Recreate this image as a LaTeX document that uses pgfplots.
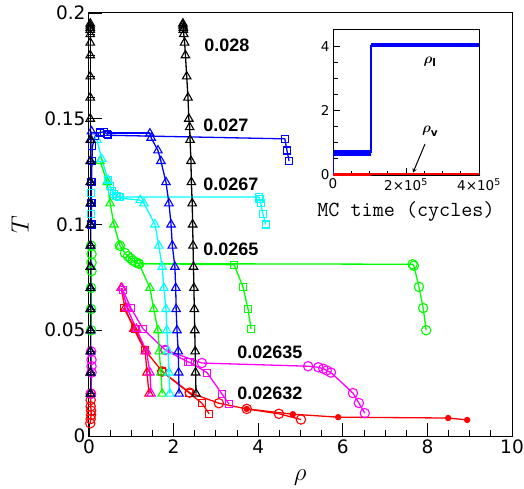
\documentclass[border=0pt]{standalone}
\usepackage{amsmath}
\usepackage{pgfplots}
\pgfplotsset{compat=1.18}
\usepackage{fontspec}
\setmainfont{DejaVu Sans}
\newfontfamily\labfont{Liberation Sans}
\definecolor{cRed}{RGB}{255,0,0}
\definecolor{cMag}{RGB}{255,0,255}
\definecolor{cGreen}{RGB}{0,255,0}
\definecolor{cCyan}{RGB}{0,255,255}
\definecolor{cBlue}{RGB}{0,0,255}
\pgfplotsset{
  tri/.style={mark=triangle, mark size=4.9pt, mark options={solid, line width=1.1pt, fill=none}},
  sq/.style={mark=square, mark size=3.5pt, mark options={solid, line width=1.1pt, fill=none}},
  circ/.style={mark=o, mark size=4.7pt, mark options={solid, line width=1.1pt, fill=none}},
  dot/.style={mark=*, mark size=2.5pt, mark options={solid}},
  ln/.style={line width=1.3pt},
}
\begin{document}
\begin{tikzpicture}
\path[use as bounding box] (0,0) rectangle (524pt,488pt);
% ---------------- main axis ----------------
\begin{axis}[
  at={(89pt,52pt)}, anchor=south west,
  scale only axis, width=423pt, height=423pt,
  xmin=0, xmax=10, ymin=0, ymax=0.2,
  xtick={0,2,4,6,8,10}, minor x tick num=3,
  ytick={0,0.05,0.1,0.15,0.2}, yticklabels={0,0.05,0.1,0.15,0.2},
  scaled y ticks=false, minor y tick num=4,
  tick pos=left, tick align=inside,
  major tick length=13pt, minor tick length=6pt,
  every tick/.style={black, line width=0.9pt},
  axis line style={line width=1pt},
  /pgf/number format/assume math mode=true,
  ticklabel style={font=\fontsize{18.5}{20}\selectfont},
  xlabel={$\rho$}, ylabel={$T$},
  xlabel style={at={(rel axis cs:0.499,-0.099)}, anchor=center, font=\fontsize{23}{26}\selectfont},
  ylabel style={at={(rel axis cs:-0.163,0.499)}, anchor=center, font=\fontsize{23}{26}\selectfont},
]
% ---- red 0.02632 ----
\addplot[cRed, ln, circ] coordinates {(0.03,0.006)(0.04,0.008)(0.05,0.010)(0.05,0.012)(0.04,0.014)(0.04,0.017)(0.04,0.020)};
\addplot[cRed, ln, tri] coordinates {(0.76,0.070)(0.85,0.0605)(1.06,0.0506)(1.33,0.040)(1.37,0.030)(1.42,0.020)};
\addplot[cRed, ln, sq] coordinates {(0.82,0.0605)(1.10,0.0506)(1.32,0.0407)(1.73,0.0305)(2.36,0.0205)(2.67,0.0155)(2.84,0.0105)};
\addplot[cRed, ln, circ] coordinates {(1.73,0.0305)(2.38,0.0205)(3.07,0.0155)(3.73,0.0128)(4.49,0.0105)(5.01,0.0078)};
\addplot[cRed, ln, dot] coordinates {(3.73,0.0128)(4.82,0.0103)(5.89,0.0089)(8.49,0.0085)(8.94,0.0076)};
% ---- magenta 0.02635 ----
\addplot[cMag, ln, circ] coordinates {(0.05,0.020)(0.06,0.030)(0.06,0.033)(0.06,0.036)(0.05,0.040)};
\addplot[cMag, ln, tri] coordinates {(0.78,0.070)(0.90,0.0605)(1.12,0.0506)(1.36,0.040)(1.44,0.030)(1.47,0.020)};
\addplot[cMag, ln, sq] coordinates {(0.80,0.069)(0.99,0.0605)(1.28,0.0506)(1.80,0.0407)(2.34,0.0350)(2.39,0.0348)(2.79,0.030)(3.14,0.020)(3.31,0.0151)};
\addplot[cMag, ln, circ] coordinates {(1.80,0.0407)(2.67,0.0345)(5.18,0.0330)(5.42,0.0325)(5.54,0.0318)(5.62,0.0310)(5.72,0.0300)(6.24,0.0203)(6.38,0.0156)(6.52,0.0108)};
% ---- green 0.0265 ----
\addplot[cGreen, ln, circ] coordinates {(0.05,0.050)(0.05,0.060)(0.05,0.070)(0.06,0.078)(0.06,0.082)(0.06,0.086)(0.05,0.090)};
\addplot[cGreen, ln, tri] coordinates {(0.26,0.130)(0.43,0.120)(0.50,0.110)(0.59,0.100)(0.73,0.090)};
\addplot[cGreen, ln, tri] coordinates {(1.18,0.0815)(1.44,0.070)(1.53,0.060)(1.63,0.050)(1.66,0.040)(1.70,0.030)(1.73,0.020)};
\addplot[cGreen, ln, circ] coordinates {(0.73,0.090)(0.85,0.0865)(0.92,0.0850)(0.98,0.0840)(1.03,0.0830)(1.10,0.0822)(1.18,0.0815)(7.65,0.0812)(7.68,0.0805)(7.80,0.0705)(7.90,0.0605)(7.97,0.050)};
\addplot[cGreen, ln, sq] coordinates {(1.18,0.0815)(3.43,0.0810)(3.64,0.0705)(3.76,0.060)(3.83,0.0506)};
% ---- cyan 0.0267 ----
\addplot[cCyan, ln, sq] coordinates {(0.05,0.100)(0.05,0.105)(0.05,0.110)(0.05,0.115)(0.05,0.120)};
\addplot[cCyan, ln, tri] coordinates {(0.19,0.140)(0.30,0.131)(0.45,0.121)};
\addplot[cCyan, ln, sq] coordinates {(0.45,0.121)(0.50,0.118)(0.55,0.116)(0.60,0.1145)(0.65,0.1135)(0.72,0.1130)(4.02,0.1130)(4.03,0.1120)(4.06,0.110)(4.11,0.105)(4.18,0.100)};
\addplot[cCyan, ln] coordinates {(0.72,0.1125)(1.21,0.1115)};
\addplot[cCyan, ln, tri] coordinates {(1.21,0.1115)(1.30,0.110)(1.56,0.100)(1.65,0.090)(1.73,0.080)(1.77,0.070)(1.82,0.060)(1.84,0.050)(1.87,0.040)(1.89,0.030)(1.91,0.020)};
% ---- blue 0.027 ----
\addplot[cBlue, ln, tri] coordinates {(0.04,0.020)(0.04,0.030)(0.04,0.040)(0.04,0.050)(0.04,0.060)(0.04,0.070)(0.04,0.080)(0.04,0.090)(0.04,0.100)(0.04,0.110)(0.04,0.120)(0.04,0.130)(0.05,0.140)(0.06,0.144)};
\addplot[cBlue, ln, sq] coordinates {(0.06,0.100)(0.06,0.110)(0.06,0.120)(0.07,0.130)(0.08,0.137)(0.15,0.1420)(0.25,0.1435)(0.35,0.1438)(0.42,0.1430)(0.45,0.1422)(4.63,0.1405)(4.68,0.135)(4.73,0.130)};
\addplot[cBlue, ln] coordinates {(0.42,0.1432)(1.44,0.1432)};
\addplot[cBlue, ln, tri] coordinates {(1.44,0.143)(1.47,0.141)(1.63,0.135)(1.70,0.130)(1.82,0.120)(1.89,0.110)(1.94,0.100)(1.97,0.090)(2.03,0.080)(2.05,0.070)(2.06,0.060)(2.08,0.050)(2.11,0.040)(2.12,0.030)(2.13,0.020)};
% ---- black 0.028 ----
\addplot[black, ln, tri] coordinates {(0.03,0.020)(0.03,0.030)(0.03,0.040)(0.03,0.050)(0.03,0.060)(0.03,0.070)(0.03,0.080)(0.03,0.090)(0.03,0.100)(0.03,0.110)(0.03,0.120)(0.03,0.130)(0.03,0.140)(0.03,0.150)(0.03,0.160)(0.03,0.170)(0.03,0.180)(0.03,0.186)(0.03,0.190)(0.03,0.192)(0.03,0.193)(0.03,0.194)(0.03,0.195)};
\addplot[black, ln, tri] coordinates {(2.53,0.020)(2.52,0.030)(2.51,0.040)(2.50,0.050)(2.49,0.060)(2.48,0.070)(2.47,0.080)(2.46,0.090)(2.45,0.100)(2.44,0.110)(2.42,0.120)(2.41,0.130)(2.39,0.140)(2.38,0.146)(2.36,0.150)(2.34,0.160)(2.31,0.170)(2.28,0.180)(2.26,0.186)(2.24,0.190)(2.23,0.192)(2.23,0.193)(2.22,0.194)(2.22,0.195)};
% labels
\begin{scope}[every node/.style={anchor=west, inner sep=0pt, font=\labfont\bfseries\fontsize{18}{20}\selectfont}]
\node at (axis cs:2.72,0.1849) {0.028};
\node at (axis cs:2.70,0.1469) {0.027};
\node at (axis cs:2.70,0.1191) {0.0267};
\node at (axis cs:2.70,0.0884) {0.0265};
\node at (axis cs:3.50,0.0397) {0.02635};
\node at (axis cs:3.50,0.0203) {0.02632};
\end{scope}
\end{axis}
% ---------------- inset ----------------
\begin{axis}[
  at={(333pt,313pt)}, anchor=south west,
  scale only axis, width=146pt, height=145pt,
  axis background/.style={fill=white},
  xmin=0, xmax=4e5, ymin=0, ymax=4.5,
  xtick={0,2e5,4e5}, xticklabels={0,2×10\textsuperscript{5},4×10\textsuperscript{5}},
  minor xtick={5e4,1e5,1.5e5,2.5e5,3e5,3.5e5},
  ytick={0,2,4}, yticklabels={0,2,4},
  minor ytick={0.5,1,1.5,2.5,3,3.5},
  scaled x ticks=false,
  tick pos=left, tick align=inside,
  major tick length=7pt, minor tick length=4.5pt,
  every tick/.style={black, line width=0.8pt},
  axis line style={line width=1pt},
  /pgf/number format/assume math mode=true,
  ticklabel style={font=\fontsize{13.5}{15}\selectfont},
  xlabel={MC time (cycles)},
  xlabel style={at={(rel axis cs:0.5,-0.255)}, anchor=center, font=\ttfamily\fontsize{21.5}{24}\selectfont},
]
\addplot[cBlue, line width=5.5pt] coordinates {(1500,0.69)(1.04e5,0.69)};
\addplot[cBlue, line width=1.2pt] coordinates {(0,0)(0,0.69)};
\addplot[cBlue, line width=1.2pt] coordinates {(1.04e5,0.69)(1.04e5,4.02)};
\addplot[cBlue, line width=4pt] coordinates {(1.05e5,4.02)(3.99e5,4.02)};
\addplot[cRed, line width=2pt] coordinates {(0,0.02)(4e5,0.02)};
\addplot[cRed, line width=3.5pt] coordinates {(0,0.02)(1.04e5,0.02)};
\node[font=\fontsize{15}{17}\selectfont] at (axis cs:2.66e5,3.51) {$\boldsymbol{\rho}_{\mathbf{l}}$};
\node[font=\fontsize{15}{17}\selectfont] at (axis cs:2.66e5,1.36) {$\boldsymbol{\rho}_{\mathbf{v}}$};
\draw[-stealth, line width=1pt] (axis cs:2.52e5,0.96) -- (axis cs:2.19e5,0.07);
\end{axis}
\end{tikzpicture}
\end{document}
